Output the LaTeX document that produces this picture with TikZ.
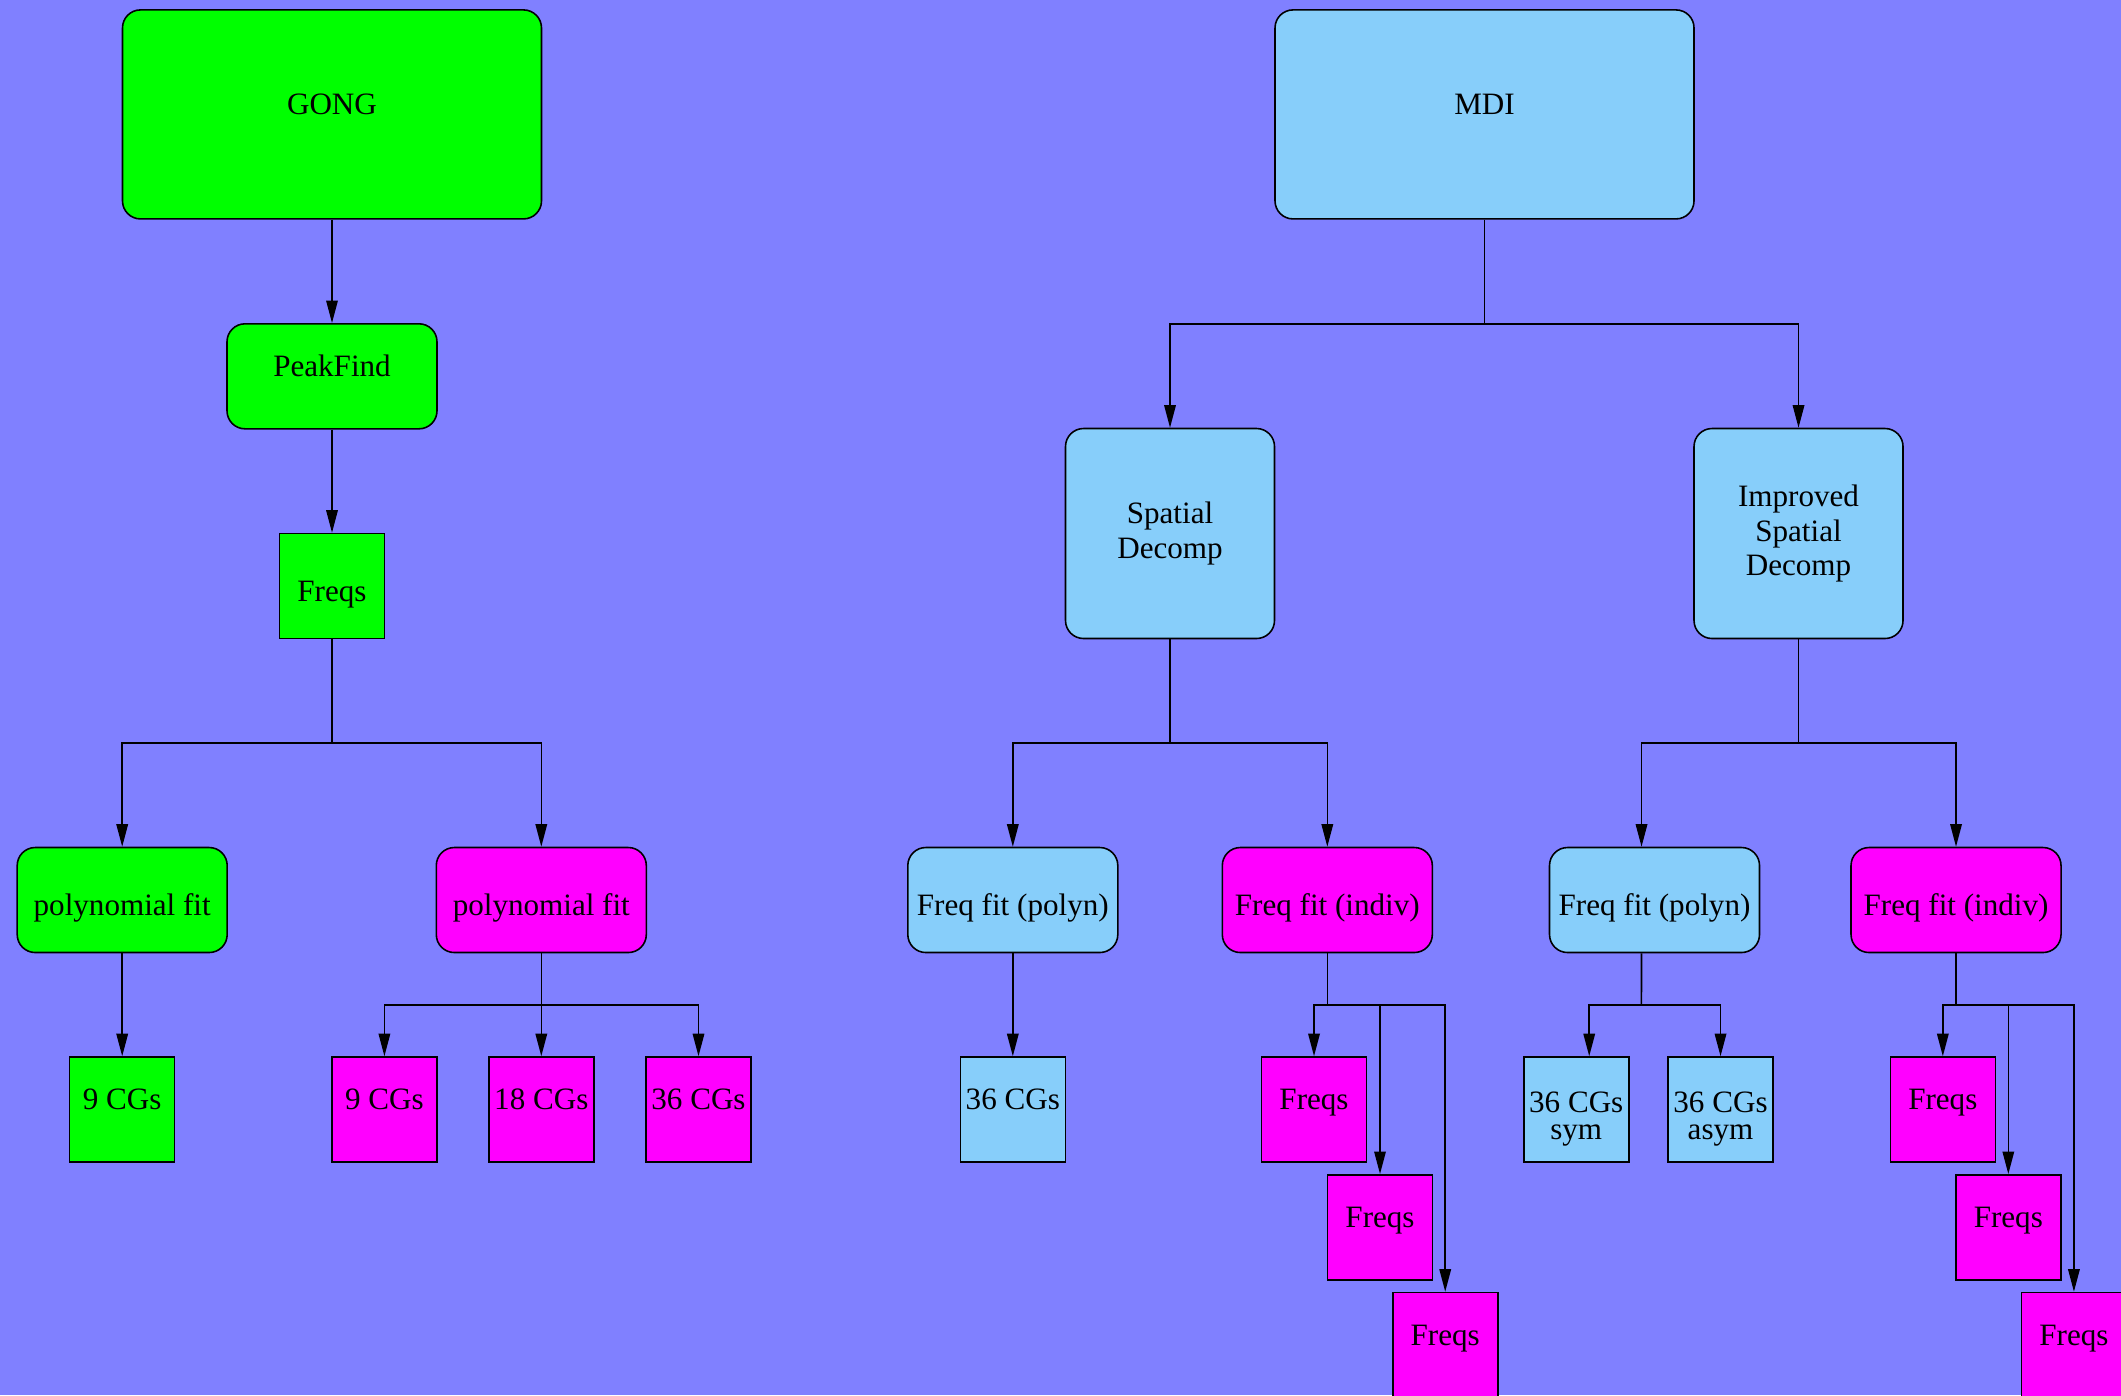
\documentclass[tikz,border=0pt]{standalone}
\usepackage{fontspec}
\setmainfont{Liberation Serif}
\usetikzlibrary{arrows.meta}
\definecolor{BackBlue}{HTML}{8080FF}
\definecolor{GongGreen}{HTML}{00FF00}
\definecolor{MdiBlue}{HTML}{87CEFA}
\definecolor{IndivMagenta}{HTML}{FF00FF}
\tikzset{
  boxbase/.style={draw=black,line width=0.45pt,inner sep=0pt,align=center,
              font=\fontsize{8.85}{9.9}\selectfont},
  topbox/.style={boxbase,rounded corners=1.8mm,minimum width=41.9mm,minimum height=20.9mm},
  midbox/.style={boxbase,rounded corners=1.8mm,minimum width=21mm,minimum height=10.5mm},
  tallbox/.style={boxbase,rounded corners=1.8mm,minimum width=20.9mm,minimum height=21mm},
  leafbox/.style={boxbase,minimum width=10.5mm,minimum height=10.5mm},
  twoline/.style={font=\fontsize{8.85}{7.55}\selectfont,text height=2em,text depth=0.3em},
  hightext/.style={text height=0.7em,text depth=0.7em},
  lowtext/.style={text height=0.9em,text depth=0pt},
  gong/.style={fill=GongGreen},
  mdi/.style={fill=MdiBlue},
  indiv/.style={fill=IndivMagenta},
  flow/.style={-{Triangle[length=2.25mm,width=1.15mm]},line width=0.45pt,draw=black},
  link/.style={line width=0.45pt,draw=black}
}
\begin{document}
\begin{tikzpicture}[x=0.1mm,y=-0.1mm]
  \useasboundingbox (0,0) rectangle (2121,1395);
  \clip (0,0) rectangle (2121,1395);
  \fill[BackBlue] (0,0) rectangle (2121,1395);

  \node[topbox,gong,hightext] (gongtop) at (332,114.4) {GONG};
  \node[midbox,gong,hightext] (peak) at (332,376.3) {PeakFind};
  \node[leafbox,gong,lowtext] (gfreqs) at (332,586) {Freqs};
  \node[midbox,gong,lowtext] (gpoly) at (122.2,900) {polynomial fit};
  \node[midbox,indiv,lowtext] (mpoly) at (541.3,900) {polynomial fit};
  \node[leafbox,gong,hightext] (gcg) at (122.2,1109.5) {9 CGs};
  \node[leafbox,indiv,hightext] (mcga) at (384.4,1109.5) {9 CGs};
  \node[leafbox,indiv,hightext] (mcgb) at (541.3,1109.5) {18 CGs};
  \node[leafbox,indiv,hightext] (mcgc) at (698.5,1109.5) {36 CGs};

  \node[topbox,mdi,hightext] (mditop) at (1484.5,114.4) {MDI};
  \node[tallbox,mdi] (spat) at (1170,533.5) {Spatial\\Decomp};
  \node[tallbox,mdi] (ispat) at (1798.5,533.5) {Improved\\Spatial\\Decomp};
  \node[midbox,mdi,lowtext] (polynA) at (1012.8,900) {Freq fit (polyn)};
  \node[midbox,indiv,lowtext] (indivA) at (1327.3,900) {Freq fit (indiv)};
  \node[midbox,mdi,lowtext] (polynB) at (1654.5,900) {Freq fit (polyn)};
  \node[midbox,indiv,lowtext] (indivB) at (1956,900) {Freq fit (indiv)};
  \node[leafbox,mdi,hightext] (cgA) at (1012.8,1109.5) {36 CGs};
  \node[leafbox,indiv,hightext] (frA1) at (1314,1109.5) {Freqs};
  \node[leafbox,indiv,hightext] (frA2) at (1380,1227.3) {Freqs};
  \node[leafbox,indiv,hightext] (frA3) at (1445.2,1345) {Freqs};
  \node[leafbox,mdi,twoline] (cgsym) at (1576.2,1109.5) {36 CGs\\sym};
  \node[leafbox,mdi,twoline] (cgasym) at (1720.5,1109.5) {36 CGs\\asym};
  \node[leafbox,indiv,hightext] (frB1) at (1942.8,1109.5) {Freqs};
  \node[leafbox,indiv,hightext] (frB2) at (2008.3,1227.3) {Freqs};
  \node[leafbox,indiv,hightext] (frB3) at (2073.9,1345) {Freqs};

  \coordinate (jG) at (332,743);
  \coordinate (jGP) at (541.3,1005);
  \coordinate (jM) at (1484.5,323.7);
  \coordinate (jS) at (1170,743);
  \coordinate (jI) at (1798.5,743);
  \coordinate (jIA) at (1327.3,1005);
  \coordinate (jPB) at (1641.4,1005);
  \coordinate (jIB) at (1956,1005);

  \draw[flow] (gongtop) -- (peak);
  \draw[flow] (peak) -- (gfreqs);
  \draw[link] (gfreqs) -- (jG);
  \draw[flow] (jG) -| (gpoly);
  \draw[flow] (jG) -| (mpoly);
  \draw[flow] (gpoly) -- (gcg);
  \draw[link] (mpoly) -- (jGP);
  \draw[flow] (jGP) -| (mcga);
  \draw[flow] (jGP) -- (mcgb);
  \draw[flow] (jGP) -| (mcgc);

  \draw[link] (mditop) -- (jM);
  \draw[flow] (jM) -| (spat);
  \draw[flow] (jM) -| (ispat);
  \draw[link] (spat) -- (jS);
  \draw[flow] (jS) -| (polynA);
  \draw[flow] (jS) -| (indivA);
  \draw[flow] (polynA) -- (cgA);
  \draw[link] (indivA) -- (jIA);
  \draw[flow] (jIA) -| (frA1);
  \draw[flow] (jIA) -| (frA2);
  \draw[flow] (jIA) -| (frA3);
  \draw[link] (ispat) -- (jI);
  \draw[flow] (jI) -| ([xshift=-1.3mm]polynB.north);
  \draw[flow] (jI) -| (indivB);
  \draw[link] ([xshift=-1.3mm]polynB.south) -- (jPB);
  \draw[flow] (jPB) -| ([xshift=1.3mm]cgsym.north);
  \draw[flow] (jPB) -| (cgasym);
  \draw[link] (indivB) -- (jIB);
  \draw[flow] (jIB) -| (frB1);
  \draw[flow] (jIB) -| (frB2);
  \draw[flow] (jIB) -| (frB3);
\end{tikzpicture}
\end{document}
